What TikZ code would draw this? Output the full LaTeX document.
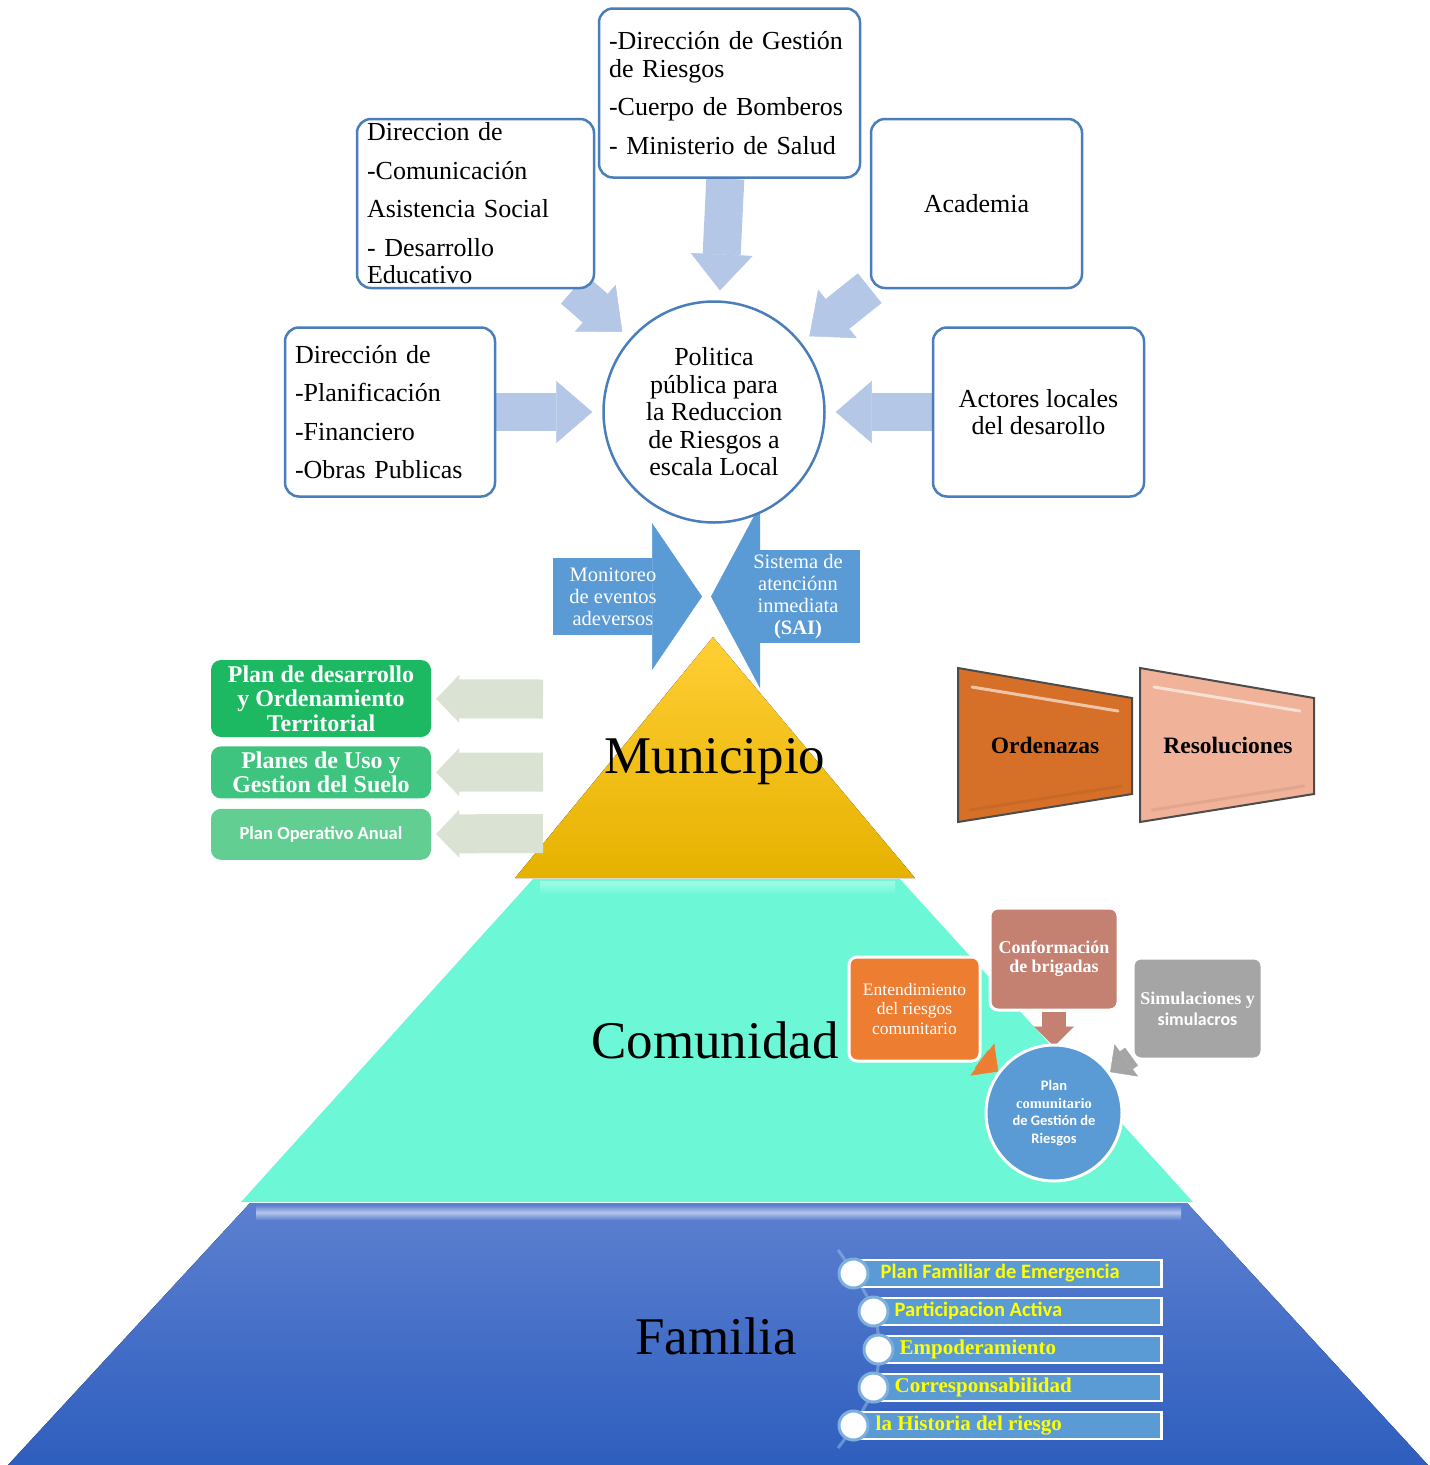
\documentclass[tikz,border=0pt]{standalone}
\usepackage{fontspec}
\setmainfont{Liberation Serif}
\setsansfont{Carlito}
\usepackage{tikz}
\usetikzlibrary{positioning, arrows.meta}
\pgfdeclarelayer{piso}
\pgfdeclarelayer{flechas}
\pgfsetlayers{piso,flechas,main}

\definecolor{borde}{RGB}{74,126,187}
\definecolor{celeste}{RGB}{180,199,231}
\definecolor{azulsa}{RGB}{91,155,213}
\definecolor{verde1}{RGB}{29,184,98}
\definecolor{verde2}{RGB}{62,196,126}
\definecolor{verde3}{RGB}{98,206,146}
\definecolor{grisverde}{RGB}{218,227,211}
\definecolor{naranja}{RGB}{214,112,40}
\definecolor{salmon}{RGB}{240,178,152}
\definecolor{ente}{RGB}{237,125,49}
\definecolor{ladrillo}{RGB}{196,128,112}
\definecolor{gris}{RGB}{165,165,165}
\definecolor{amar1}{RGB}{255,206,52}
\definecolor{amar2}{RGB}{230,178,0}
\definecolor{turquesa}{RGB}{108,248,214}
\definecolor{azul1}{RGB}{92,128,208}
\definecolor{azul2}{RGB}{46,94,190}
\definecolor{amarillo}{RGB}{255,255,0}

\tikzset{
	caja/.style={draw=borde, line width=2.5pt, rounded corners=14pt, fill=white, minimum height=169pt, inner xsep=10pt, inner ysep=0pt, font=\fontsize{26}{27.5}\selectfont},
	pol/.style={circle, draw=borde, line width=2.5pt, fill=white, minimum size=221pt, inner sep=0pt, align=center, font=\fontsize{26}{27.5}\selectfont},
	flecha/.style={celeste, line width=38pt, -{Triangle[width=62pt, length=36pt, line width=.5pt]}, shorten >=10pt},
	btxt/.style={text=white, align=center, inner sep=0pt, font=\fontsize{20.5}{22}\selectfont},
	gcaja/.style={rounded corners=10pt, text=white, align=center, minimum width=220pt, inner sep=2pt, font=\bfseries\fontsize{24}{24.5}\selectfont},
	gflecha/.style={grisverde, line width=39pt, -{Triangle[width=48pt, length=23pt, line width=.5pt]}, shorten >=5pt},
	trap/.style={draw=black!70, line width=2pt},
	ttxt/.style={anchor=base, font=\bfseries\fontsize{23.5}{25}\selectfont},
	nivel/.style={anchor=base, font=\fontsize{53}{55}\selectfont},
	ccaja/.style={draw=white, line width=3pt, rounded corners=8pt, text=white, align=center, inner sep=2pt},
	cflecha/.style={line width=22pt, -{Triangle[width=40pt, length=20pt, line width=.5pt]}},
	famb/.style={fill=azulsa, draw=white, line width=2.5pt, minimum height=27pt, anchor=west},
	famc/.style={circle, fill=white, draw=azulsa!80!white, line width=3pt, minimum size=29pt, inner sep=0pt},
	famt/.style={text=amarillo, inner sep=0pt, text height=13pt, text depth=4pt, font=\bfseries\fontsize{21}{22}\selectfont}
}

\begin{document}
\begin{tikzpicture}[x=1pt, y=-1pt]
	\useasboundingbox (0,0) rectangle (1430,1465);

	% actores alrededor de la politica
	\node[pol] (pol) at (714,412) {Politica\\pública para\\la Reduccion\\de Riesgos a\\escala Local};
	\node[caja, text width=241pt, align=left] (dges) at (729.5,93) {-Dirección de Gestión\\de Riesgos\\[11pt]-Cuerpo de Bomberos\\[11pt]- Ministerio de Salud};
	\node[caja, text width=217pt, align=left] (dcom) at (475.5,203.5) {Direccion de\\[11pt]-Comunicación\\[11pt]Asistencia Social\\[11pt]- Desarrollo\\Educativo};
	\node[caja, minimum width=211pt] (acad) at (976.5,203.5) {Academia};
	\node[caja, text width=190pt, align=left, left=106pt of pol] (dpla) {Dirección de\\[11pt]-Planificación\\[11pt]-Financiero\\[11pt]-Obras Publicas};
	\node[caja, minimum width=211pt, align=center, right=106pt of pol] (acto) {Actores locales\\del desarollo};

	% flechas azules
	\coordinate (m0) at (553,596.5);
	\coordinate (m1) at (702,596.5);
	\coordinate (s0) at (860,596.5);
	\coordinate (s1) at (711,596.5);
	\node[btxt] (moni) at (613,597) {Monitoreo\\de eventos\\adeversos};
	\node[btxt] (sai) at (798,597) {Sistema de\\atenciónn\\inmediata\\\textbf{(SAI)}};

	% planes del municipio
	\node[gcaja, fill=verde1, minimum height=77pt] (pdot) at (321,698.5) {Plan de desarrollo\\y Ordenamiento\\Territorial};
	\node[gcaja, fill=verde2, minimum height=52pt, below=9pt of pdot] (puso) {Planes de Uso y\\Gestion del Suelo};
	\node[gcaja, fill=verde3, minimum height=51pt, below=10pt of puso, font=\sffamily\bfseries\fontsize{18.5}{20}\selectfont] (poa) {Plan Operativo Anual};
	\coordinate (g1) at (543,699);
	\coordinate (g2) at (543,772);
	\coordinate (g3) at (543,833.5);

	% normativa
	\draw[trap, fill=naranja] (958,668) -- (1132,698) -- (1132,794) -- (958,822) -- cycle;
	\draw[white, opacity=.6, line width=3pt, line cap=round] (972,687) -- (1118,711);
	\draw[naranja!80!black, opacity=.3, line width=3pt, line cap=round] (970,810) -- (1122,786);
	\draw[trap, fill=salmon] (1140,668) -- (1314,698) -- (1314,794) -- (1140,822) -- cycle;
	\draw[white, opacity=.6, line width=3pt, line cap=round] (1154,687) -- (1300,711);
	\draw[salmon!80!black, opacity=.3, line width=3pt, line cap=round] (1152,810) -- (1304,786);
	\node[ttxt] (orde) at (1045,753) {Ordenazas};
	\node[ttxt] (reso) at (1228,753) {Resoluciones};

	% niveles
	\node[nivel] (muni) at (715,773) {Municipio};
	\node[nivel] (cmdd) at (715,1058) {Comunidad};
	\node[nivel] (fami) at (716,1354) {Familia};

	% comunidad
	\node[ccaja, fill=ente, minimum width=131pt, minimum height=104pt, font=\fontsize{17.5}{19.5}\selectfont] (ente) at (914.5,1009) {Entendimiento\\del riesgos\\comunitario};
	\node[ccaja, fill=ladrillo, minimum width=128pt, minimum height=102pt, font=\bfseries\fontsize{18}{19}\selectfont] (conf) at (1054,959) {Conformación\\de brigadas};
	\node[ccaja, fill=gris, minimum width=129pt, minimum height=101pt, font=\bfseries\fontsize{18}{21}\selectfont] (simu) at (1197.5,1008.5) {Simulaciones y\\{\sffamily simulacros}};
	\node[circle, fill=azulsa, draw=white, line width=3pt, minimum size=136pt, inner sep=0pt, text=white, align=center, font=\sffamily\bfseries\fontsize{14.5}{17.7}\selectfont] (pcg) at (1054,1113) {Plan\\{\rmfamily comunitario}\\de Gestión de\\Riesgos};

	% familia
	\node[famb, minimum width=308pt] (b1) at (852,1273.5) {};
	\node[famb, minimum width=288pt] (b2) at (872,1311.5) {};
	\node[famb, minimum width=283pt] (b3) at (877,1349.5) {};
	\node[famb, minimum width=288pt] (b4) at (872,1387.5) {};
	\node[famb, minimum width=308pt] (b5) at (852,1425.5) {};
	\node[famc] (c1) at ([xshift=1.5pt]b1.west) {};
	\node[famc] (c2) at ([xshift=1.5pt]b2.west) {};
	\node[famc] (c3) at ([xshift=1.5pt]b3.west) {};
	\node[famc] (c4) at ([xshift=1.5pt]b4.west) {};
	\node[famc] (c5) at ([xshift=1.5pt]b5.west) {};
	\node[famt, right=11pt of c1, font=\sffamily\bfseries\fontsize{20.5}{22}\selectfont] (t1) {Plan Familiar de Emergencia};
	\node[famt, right=5pt of c2, font=\sffamily\bfseries\fontsize{20.5}{22}\selectfont] (t2) {Participacion Activa};
	\node[famt, right=5pt of c3] (t3) {Empoderamiento};
	\node[famt, right=5pt of c4] (t4) {Corresponsabilidad};
	\node[famt, right=6pt of c5] (t5) {la Historia del riesgo};

	\begin{pgfonlayer}{piso}
		\fill[top color=amar1, bottom color=amar2] (713,637) -- (915,878) -- (515,878) -- cycle;
		\fill[turquesa] (533,879) -- (900,879) -- (1193,1202) -- (241,1202) -- cycle;
		\shade[top color=turquesa!60!white, bottom color=turquesa] (540,881) rectangle (895,894);
		\fill[top color=azul1, bottom color=azul2] (250,1203) -- (1187,1203) -- (1428,1465) -- (8,1465) -- cycle;
		\shade[top color=azul1, bottom color=azul1, middle color=azul1!45!white] (256,1205) rectangle (1181,1220);
	\end{pgfonlayer}

	\begin{pgfonlayer}{flechas}
		\draw[flecha] (dges) -- (pol);
		\draw[flecha] (dcom) -- (pol);
		\draw[flecha] (acad) -- (pol);
		\draw[flecha] (dpla) -- (pol);
		\draw[flecha] (acto) -- (pol);
		\draw[azulsa, line width=77pt, -{Triangle[width=147pt, length=50pt, line width=.5pt]}] (m0) -- (m1);
		\draw[azulsa, line width=93pt, -{Triangle[width=183pt, length=49pt, line width=.5pt]}] (s0) -- (s1);
		\draw[gflecha] (g1) -- (pdot);
		\draw[gflecha] (g2) -- (puso);
		\draw[gflecha] (g3) -- (poa);
		\draw[cflecha, ente] (ente) -- (pcg);
		\draw[cflecha, ladrillo, line width=24pt, shorten >=-3pt] (conf) -- (pcg);
		\draw[cflecha, gris] (simu) -- (pcg);
		\draw[azulsa!60!white, opacity=.5, line width=3pt] plot[smooth, tension=.7] coordinates {(838,1250) (c1.center) (c2.center) (c3.center) (c4.center) (c5.center) (838,1448)};
	\end{pgfonlayer}
\end{tikzpicture}
\end{document}
